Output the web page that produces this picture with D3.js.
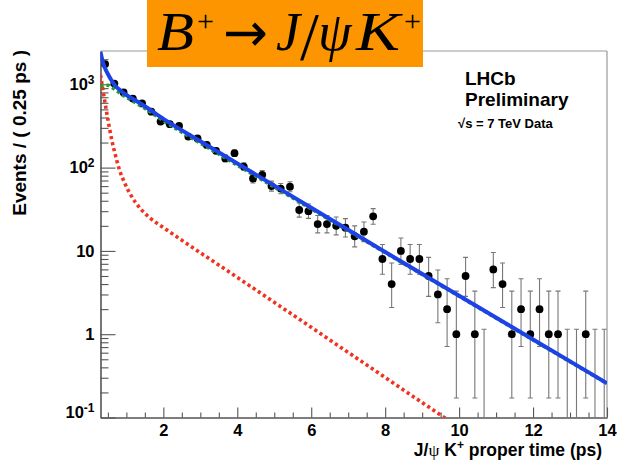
<!DOCTYPE html>
<html><head><meta charset="utf-8">
<script src="https://cdn.jsdelivr.net/npm/d3@7"></script>
<style>body{margin:0;background:#fff}svg{display:block}</style>
</head><body>
<svg id="c" width="617" height="461"></svg>
<script>
// ---------- data ----------
const binCenters = [0.425,0.675,0.925,1.175,1.425,1.675,1.925,2.175,2.425,2.675,2.925,3.175,3.425,3.675,3.925,4.175,4.425,4.675,4.925,5.175,5.425,5.675,5.925,6.175,6.425,6.675,6.925,7.175,7.425,7.675,7.925,8.175,8.425,8.675,8.925,9.175,9.425,9.675,9.925,10.175,10.425,10.675,10.925,11.175,11.425,11.675,11.925,12.175,12.425,12.675,12.925,13.175,13.425,13.675,13.925];
const counts = [1750,1020,800,675,590,470,357,332,317,236,224,187,159,129,149,103,74,82,60,56,59,31,30,21,21,20,19,15,17,26,8,4,10,8,8,5,3,2,1,5,1,0,6,4,1,2,1,2,1,1,0,0,1,0,0];

const blueT = [0.3,0.35,0.4,0.5,0.6,0.7,0.8,0.9,1.0,1.25,1.5,2,3,4,6,8,10,12,14];
const blueV = [2450,1950,1650,1330,1110,960,870,800,745,640,545,385,207,112,33,9.7,2.9,0.865,0.258];
const greenT = [0.3,0.4,0.5,0.6,0.7,0.8,0.9,1.0,1.25,1.5,2,3,4,6,8,10,12,14];
const greenV = [940,975,975,925,860,800,745,700,600,515,365,197,107,32,9.55,2.86,0.855,0.256];
const redT = [0.3,0.35,0.4,0.5,0.6,0.7,0.8,0.95,1.13,1.36,1.63,2,4,6,8,10];
const redV = [1300,950,690,380,220,143,98,66,46,33,25,19.1,4.81,1.21,0.302,0.0757];

const xMajor = [2,4,6,8,10,12,14];
const xMinor = [0.5,1,1.5,2.5,3,3.5,4.5,5,5.5,6.5,7,7.5,8.5,9,9.5,10.5,11,11.5,12.5,13,13.5];
const yMajor = [0.1,1,10,100,1000];
const yLabelBase = ["10","1","10","10","10"];
const yLabelExp = ["-1","","","2","3"];
const yMinor = [0.2,0.3,0.4,0.5,0.6,0.7,0.8,0.9,2,3,4,5,6,7,8,9,20,30,40,50,60,70,80,90,200,300,400,500,600,700,800,900,2000];

// ---------- layout ----------
const L=100.5, R=607, T=51, B=417.5;
const x = d3.scaleLinear().domain([0.3,14]).range([L,R]);
const y = d3.scaleLog().domain([0.1,2512]).range([B,T]);
const svg = d3.select('#c');
const sans = '"Liberation Sans",Arial,Helvetica,sans-serif';
const serif = '"Liberation Serif","DejaVu Serif","Times New Roman",serif';

svg.append('defs').append('clipPath').attr('id','plot')
  .append('rect').attr('x',L).attr('y',T).attr('width',R-L).attr('height',B-T);

// frame top/right
svg.append('line').attr('x1',L).attr('x2',R).attr('y1',T).attr('y2',T).attr('stroke','#999').attr('stroke-width',1.2);
svg.append('line').attr('x1',R).attr('x2',R).attr('y1',T).attr('y2',B).attr('stroke','#999').attr('stroke-width',1.2);

// x axis
const axCol = '#555';
const gxm = svg.append('g').attr('transform',`translate(0,${B})`)
  .call(d3.axisBottom(x).tickValues(xMinor).tickSize(-5).tickSizeOuter(0).tickFormat(''));
const gx = svg.append('g').attr('transform',`translate(0,${B})`)
  .call(d3.axisBottom(x).tickValues(xMajor).tickSize(-10).tickSizeOuter(0).tickPadding(7).tickFormat(d3.format('d')));
[gxm,gx].forEach(g=>{g.selectAll('path,line').attr('stroke',axCol).attr('stroke-width',1.1);});
gx.selectAll('text').attr('font-family',sans).attr('font-weight','bold').attr('font-size',16.5).attr('fill','#000');

// y axis
const gym = svg.append('g').attr('transform',`translate(${L},0)`)
  .call(d3.axisLeft(y).tickValues(yMinor).tickSize(-8).tickSizeOuter(0).tickFormat(''));
const gy = svg.append('g').attr('transform',`translate(${L},0)`)
  .call(d3.axisLeft(y).tickValues(yMajor).tickSize(-15).tickSizeOuter(0).tickPadding(6));
[gym,gy].forEach(g=>{g.selectAll('path,line').attr('stroke',axCol).attr('stroke-width',1.1);});
gy.selectAll('.tick text').each(function(d,i){
  const t = d3.select(this);
  t.text(null).attr('font-family',sans).attr('font-weight','bold').attr('font-size',16.5).attr('fill','#000');
  t.append('tspan').text(yLabelBase[i]);
  if (yLabelExp[i]) t.append('tspan').attr('dy','-0.5em').attr('font-size',12).text(yLabelExp[i]);
  if (i===0) t.attr('transform','translate(0,-5)');
});

// data error bars
const data = binCenters.map((t,i)=>({t, n:counts[i]}));
function poissonInterval(n){
  if (n===0) return [0,1.148];
  const lo = n*Math.pow(1-1/(9*n)-1/(3*Math.sqrt(n)),3);
  const m = n+1;
  const hi = m*Math.pow(1-1/(9*m)+1/(3*Math.sqrt(m)),3);
  return [lo,hi];
}
const eg = svg.append('g').attr('clip-path','url(#plot)');
data.forEach(d=>{
  const [lo,hi] = poissonInterval(d.n);
  const px = x(d.t), y1 = y(Math.max(lo,0.1)), y2 = y(Math.min(hi,2512));
  eg.append('line').attr('x1',px).attr('x2',px).attr('y1',y1).attr('y2',y2).attr('stroke','#777').attr('stroke-width',1.1);
  eg.append('line').attr('x1',px-2.5).attr('x2',px+2.5).attr('y1',y2).attr('y2',y2).attr('stroke','#777').attr('stroke-width',1.1);
  if (lo>0.1) eg.append('line').attr('x1',px-2.5).attr('x2',px+2.5).attr('y1',y1).attr('y2',y1).attr('stroke','#777').attr('stroke-width',1.1);
});
eg.selectAll('circle').data(data.filter(d=>d.n>0)).enter().append('circle')
  .attr('cx',d=>x(d.t)).attr('cy',d=>y(d.n)).attr('r',3.9).attr('fill','#000');

// curves
const line = d3.line().x(d=>x(d[0])).y(d=>y(d[1])).curve(d3.curveMonotoneX);
const cg = svg.append('g').attr('clip-path','url(#plot)');
cg.append('path').attr('d',line(redT.map((t,i)=>[t,redV[i]])))
  .attr('fill','none').attr('stroke','#f2321e').attr('stroke-width',3.6).attr('stroke-dasharray','3.2,3');
cg.append('path').attr('d',line(greenT.map((t,i)=>[t,greenV[i]])))
  .attr('fill','none').attr('stroke','#22a022').attr('stroke-width',3.6).attr('stroke-dasharray','3.2,3');
cg.append('path').attr('d',line(blueT.map((t,i)=>[t,blueV[i]])))
  .attr('fill','none').attr('stroke','#1d43e8').attr('stroke-width',4);

// axis titles
const xt = svg.append('text').attr('x',602).attr('y',456).attr('text-anchor','end')
  .attr('font-family',sans).attr('font-weight','bold').attr('font-size',17.5).attr('fill','#000');
xt.append('tspan').text('J/');
xt.append('tspan').attr('font-family',serif).attr('font-weight','normal').text('ψ');
xt.append('tspan').text(' K');
xt.append('tspan').attr('font-size',12).attr('dy',-7).text('+');
xt.append('tspan').attr('dy',7).text(' proper time (ps)');

svg.append('text').attr('transform','translate(26,50) rotate(-90)').attr('text-anchor','end')
  .attr('font-family',sans).attr('font-weight','bold').attr('font-size',19).attr('fill','#000')
  .text('Events / ( 0.25 ps )');

// legend text
const lg = svg.append('g').attr('font-family',sans).attr('font-weight','bold').attr('fill','#000');
lg.append('text').attr('x',465).attr('y',85).attr('font-size',19).text('LHCb');
lg.append('text').attr('x',465).attr('y',106).attr('font-size',19).text('Preliminary');
lg.append('text').attr('x',458).attr('y',128).attr('font-size',13).text('√s = 7 TeV Data');

// title box
const tg = svg.append('g');
tg.append('rect').attr('x',147).attr('y',0).attr('width',276).attr('height',67).attr('fill','#fd9500');
const tf = (txt,px,py,size,italic,fam)=>tg.append('text').attr('x',px).attr('y',py).attr('font-family',fam||serif)
  .attr('font-size',size).attr('font-style',italic?'italic':'normal').attr('fill','#000').text(txt);
tf('B',157,50,54,true).attr('textLength',37).attr('lengthAdjust','spacingAndGlyphs');
tf('+',197,31,30,false);
tf('→',223,51,54,false,'"DejaVu Sans",sans-serif').attr('textLength',45).attr('lengthAdjust','spacingAndGlyphs');
tf('J',276,50,54,true);
tf('/',300,59,68,false);
tf('ψ',318,50,54,true);
tf('K',356,50,54,true).attr('textLength',44).attr('lengthAdjust','spacingAndGlyphs');
tf('+',404,31,30,false);
</script>
</body></html>
